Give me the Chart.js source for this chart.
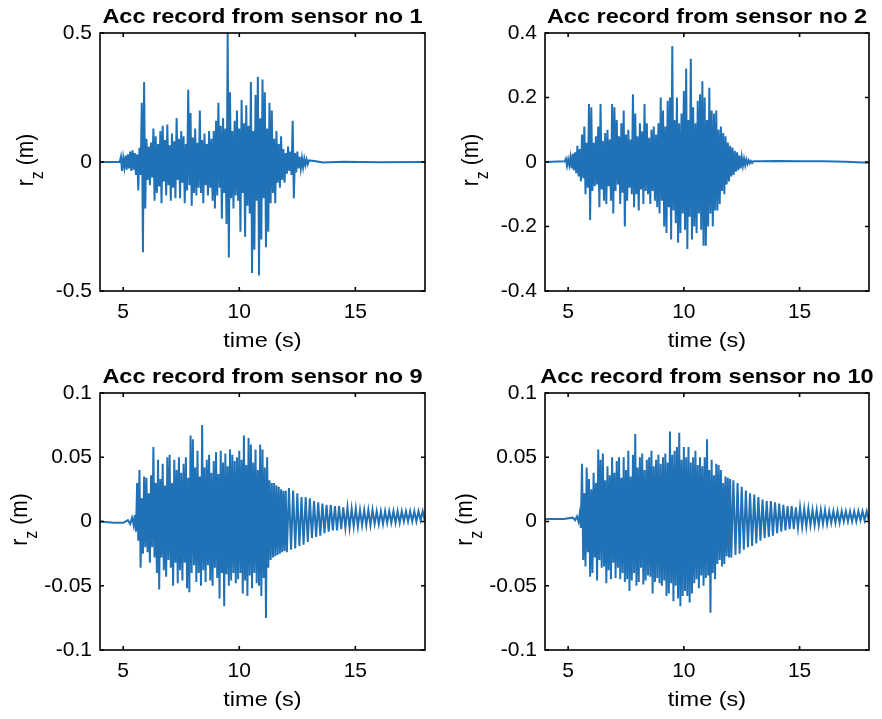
<!DOCTYPE html>
<html>
<head>
<meta charset="utf-8">
<title>Acc records</title>
<script src="https://cdn.jsdelivr.net/npm/chart.js@4.4.1/dist/chart.umd.min.js"></script>
<style>
  body { margin: 0; background: #fff; }
  #page { position: relative; width: 882px; height: 719px; }
  canvas { position: absolute; }
</style>
</head>
<body>
<div id="page">
  <canvas id="c1" width="441" height="360" style="left:0;top:0"></canvas>
  <canvas id="c2" width="441" height="360" style="left:441px;top:0"></canvas>
  <canvas id="c9" width="441" height="359" style="left:0;top:360px"></canvas>
  <canvas id="c10" width="441" height="359" style="left:441px;top:360px"></canvas>
</div>
<script>
// tick labels
const timeTicks = [5, 10, 15];
const ticks1 = [-0.5, 0, 0.5];
const ticks2 = [-0.4, -0.2, 0, 0.2, 0.4];
const ticks9 = [-0.1, -0.05, 0, 0.05, 0.1];
const ticks10 = [-0.1, -0.05, 0, 0.05, 0.1];

// sensor 1 : quiet start, burst sampled every 0.05 s from 4.9 s, quiet end
const s1Lead = [[4, 0], [4.85, 0.001]];
const s1Burst = [
  0.02, -0.035, 0.015, -0.02, 0.025, -0.03, 0.03, -0.025, 0.04, -0.035,
  0.045, -0.03, 0.035, -0.05, 0.03, -0.11, 0.055, -0.05, 0.23, -0.35,
  0.31, -0.18, 0.09, -0.07, 0.06, -0.09, 0.075, -0.06, 0.13, -0.15,
  0.1, -0.12, 0.07, -0.095, 0.12, -0.16, 0.14, -0.075, 0.085, -0.13,
  0.145, -0.09, 0.065, -0.15, 0.11, -0.1, 0.08, -0.14, 0.17, -0.07,
  0.09, -0.14, 0.12, -0.08, 0.1, -0.16, 0.07, -0.11, 0.28, -0.09,
  0.19, -0.17, 0.095, -0.12, 0.13, -0.13, 0.075, -0.1, 0.2, -0.12,
  0.085, -0.16, 0.11, -0.09, 0.07, -0.13, 0.12, -0.1, 0.09, -0.15,
  0.12, -0.18, 0.16, -0.13, 0.23, -0.1, 0.14, -0.22, 0.17, -0.12,
  0.13, -0.24, 0.5, -0.37, 0.27, -0.14, 0.12, -0.18, 0.16, -0.13,
  0.2, -0.15, 0.13, -0.27, 0.24, -0.12, 0.15, -0.29, 0.22, -0.17,
  0.14, -0.2, 0.31, -0.43, 0.12, -0.34, 0.26, -0.15, 0.33, -0.44,
  0.17, -0.3, 0.32, -0.14, 0.27, -0.33, 0.13, -0.27, 0.23, -0.16,
  0.2, -0.12, 0.09, -0.16, 0.12, -0.08, 0.07, -0.1, 0.1, -0.07,
  0.05, -0.08, 0.035, -0.045, 0.06, -0.035, 0.04, -0.05, 0.16, -0.14,
  0.035, -0.04, 0.04, -0.025, 0.02, -0.025, 0.015, -0.02, 0.012, -0.012,
  0.01, -0.008, 0.006
];
const s1End = [[13.3, 0.003], [13.6, -0.002], [14.5, 0.001], [16, -0.001], [18, 0]];

// sensor 2
const s2Lead = [[4, 0], [4.85, 0.002]];
const s2Burst = [
  0.01, -0.012, 0.008, -0.01, 0.015, -0.02, 0.025, -0.025, 0.03, -0.035,
  0.05, -0.045, 0.04, -0.06, 0.085, -0.05, 0.11, -0.1, 0.06, -0.08,
  0.18, -0.18, 0.17, -0.09, 0.06, -0.075, 0.08, -0.07, 0.11, -0.14,
  0.18, -0.085, 0.065, -0.12, 0.09, -0.13, 0.1, -0.075, 0.07, -0.12,
  0.18, -0.16, 0.17, -0.09, 0.13, -0.07, 0.08, -0.13, 0.12, -0.095,
  0.16, -0.2, 0.085, -0.12, 0.1, -0.08, 0.07, -0.1, 0.21, -0.14,
  0.15, -0.1, 0.08, -0.15, 0.12, -0.085, 0.095, -0.13, 0.18, -0.09,
  0.12, -0.1, 0.075, -0.13, 0.1, -0.09, 0.11, -0.12, 0.085, -0.14,
  0.12, -0.16, 0.2, -0.12, 0.16, -0.2, 0.11, -0.22, 0.19, -0.14,
  0.2, -0.24, 0.36, -0.15, 0.13, -0.19, 0.2, -0.25, 0.12, -0.22,
  0.15, -0.16, 0.22, -0.21, 0.29, -0.27, 0.13, -0.17, 0.32, -0.24,
  0.17, -0.2, 0.12, -0.22, 0.19, -0.16, 0.21, -0.21, 0.25, -0.26,
  0.2, -0.26, 0.13, -0.2, 0.23, -0.16, 0.16, -0.2, 0.15, -0.15,
  0.16, -0.15, 0.1, -0.13, 0.11, -0.09, 0.09, -0.1, 0.08, -0.07,
  0.06, -0.06, 0.05, -0.045, 0.045, -0.04, 0.035, -0.03, 0.03, -0.025,
  0.02, -0.02, 0.015, -0.012, 0.01, -0.01, 0.008, -0.006, 0.005, -0.004,
  0.003, -0.003, 0.002
];
const s2End = [[13.3, 0.002], [14, 0.003], [15, 0.002], [16, 0.002], [17, 0.001], [18, -0.002]];

// sensor 9 : burst every 0.05 s from 5.5 s, ringing every 0.09 s from 12.05 s
const s9Lead = [[4, 0], [4.6, -0.001], [5.0, -0.001], [5.2, 0.001], [5.3, -0.002], [5.38, 0.003], [5.45, -0.003]];
const s9Burst = [
  0.005, -0.008, 0.03, -0.015, 0.04, -0.036, 0.018, -0.025, 0.035, -0.02,
  0.034, -0.024, 0.022, -0.032, 0.036, -0.02, 0.058, -0.028, 0.03, -0.04,
  0.048, -0.053, 0.033, -0.028, 0.045, -0.038, 0.028, -0.043, 0.05, -0.03,
  0.052, -0.036, 0.03, -0.05, 0.048, -0.032, 0.04, -0.048, 0.05, -0.038,
  0.038, -0.046, 0.045, -0.032, 0.05, -0.052, 0.034, -0.055, 0.067, -0.04,
  0.064, -0.034, 0.042, -0.047, 0.055, -0.04, 0.035, -0.05, 0.075, -0.038,
  0.042, -0.047, 0.048, -0.034, 0.052, -0.046, 0.038, -0.05, 0.047, -0.036,
  0.054, -0.044, 0.037, -0.06, 0.055, -0.04, 0.046, -0.066, 0.053, -0.041,
  0.043, -0.05, 0.056, -0.046, 0.052, -0.04, 0.047, -0.048, 0.05, -0.045,
  0.055, -0.04, 0.048, -0.056, 0.067, -0.046, 0.044, -0.058, 0.065, -0.042,
  0.06, -0.052, 0.046, -0.04, 0.056, -0.048, 0.04, -0.05, 0.06, -0.058,
  0.056, -0.044, 0.042, -0.075, 0.05, -0.036, 0.032, -0.03, 0.03, -0.028,
  0.03, -0.027, 0.028, -0.026, 0.027, -0.025, 0.025, -0.024, 0.024, -0.023,
  0.024
];
const s9Tail = [
  -0.024, 0.026, -0.022, 0.024, -0.021, 0.022, -0.019, 0.019, -0.018, 0.019,
  -0.016, 0.018, -0.013, 0.016, -0.012, 0.015, -0.011, 0.014, -0.009, 0.013,
  -0.008, 0.013, -0.007, 0.012, -0.007, 0.012, -0.006, 0.011, -0.005, 0.011,
  -0.005, 0.01, -0.004, 0.01, -0.004, 0.009, -0.003, 0.009, -0.003, 0.009,
  -0.003, 0.009, -0.002, 0.008, -0.002, 0.008, -0.002, 0.008, -0.001, 0.008,
  -0.001, 0.008, -0.001, 0.008, -0.001, 0.008, 0, 0.008, 0, 0.008,
  0, 0.008, 0, 0.008, 0.001, 0.008, 0.001
];

// sensor 10
const s10Lead = [[4, 0.002], [4.8, 0.002], [5.2, 0.003], [5.3, 0.001], [5.38, 0.004], [5.45, 0]];
const s10Burst = [
  0.006, -0.005, 0.045, -0.03, 0.022, -0.035, 0.042, -0.024, 0.033, -0.043,
  0.025, -0.04, 0.038, -0.028, 0.03, -0.046, 0.056, -0.03, 0.048, -0.036,
  0.053, -0.035, 0.032, -0.048, 0.043, -0.038, 0.036, -0.045, 0.05, -0.032,
  0.038, -0.044, 0.047, -0.036, 0.05, -0.045, 0.034, -0.04, 0.05, -0.047,
  0.04, -0.045, 0.055, -0.054, 0.035, -0.046, 0.052, -0.04, 0.068, -0.05,
  0.042, -0.047, 0.05, -0.036, 0.053, -0.049, 0.04, -0.046, 0.048, -0.042,
  0.05, -0.043, 0.055, -0.056, 0.043, -0.047, 0.048, -0.044, 0.052, -0.048,
  0.045, -0.05, 0.05, -0.046, 0.053, -0.058, 0.046, -0.056, 0.07, -0.048,
  0.052, -0.062, 0.055, -0.05, 0.058, -0.06, 0.069, -0.066, 0.048, -0.058,
  0.058, -0.054, 0.05, -0.058, 0.058, -0.063, 0.046, -0.056, 0.05, -0.048,
  0.055, -0.045, 0.044, -0.052, 0.05, -0.042, 0.043, -0.05, 0.05, -0.044,
  0.064, -0.042, 0.04, -0.071, 0.048, -0.04, 0.036, -0.045, 0.045, -0.033,
  0.044, -0.03, 0.04, -0.035, 0.03, -0.033, 0.035, -0.027, 0.034, -0.028,
  0.033
];
const s10Tail = [
  -0.028, 0.032, -0.026, 0.03, -0.025, 0.027, -0.022, 0.024, -0.02, 0.022,
  -0.019, 0.021, -0.017, 0.019, -0.015, 0.017, -0.013, 0.016, -0.012, 0.016,
  -0.011, 0.015, -0.009, 0.014, -0.008, 0.013, -0.007, 0.012, -0.006, 0.012,
  -0.006, 0.011, -0.005, 0.011, -0.004, 0.01, -0.004, 0.01, -0.003, 0.009,
  -0.003, 0.009, -0.003, 0.009, -0.002, 0.009, -0.002, 0.008, -0.001, 0.008,
  -0.001, 0.008, -0.001, 0.008, 0, 0.008, 0, 0.008, 0, 0.008,
  0, 0.008, 0.001, 0.008, 0.001, 0.008, 0.001
];

const LINE = '#2071b5';
const FONT = '"Liberation Sans", Arial, Helvetica, sans-serif';
const STRETCH = 1.12;

function pairs(list) {
  return list.map(p => ({ x: p[0], y: p[1] }));
}

function run(t0, dt, vals) {
  return vals.map((v, i) => ({ x: t0 + i * dt, y: v }));
}

const framePlugin = {
  id: 'frame',
  afterDraw(chart, args, opts) {
    const { ctx, chartArea: a, scales } = chart;
    const cx = (a.left + a.right) / 2;
    const cy = (a.top + a.bottom) / 2;
    ctx.save();

    // box and inward ticks
    ctx.strokeStyle = '#000';
    ctx.lineWidth = 1.6;
    ctx.strokeRect(a.left, a.top, a.right - a.left, a.bottom - a.top);
    ctx.beginPath();
    scales.x.ticks.forEach(t => {
      const px = scales.x.getPixelForValue(t.value);
      ctx.moveTo(px, a.bottom); ctx.lineTo(px, a.bottom - 4);
      ctx.moveTo(px, a.top); ctx.lineTo(px, a.top + 4);
    });
    scales.y.ticks.forEach(t => {
      const py = scales.y.getPixelForValue(t.value);
      ctx.moveTo(a.left, py); ctx.lineTo(a.left + 4, py);
      ctx.moveTo(a.right, py); ctx.lineTo(a.right - 4, py);
    });
    ctx.stroke();

    ctx.fillStyle = '#000';
    ctx.textBaseline = 'alphabetic';

    // title
    ctx.save();
    ctx.translate(cx, a.top - 10);
    ctx.scale(STRETCH, 1);
    ctx.font = 'bold 21px ' + FONT;
    ctx.textAlign = 'center';
    ctx.fillText(opts.title, 0, 0);
    ctx.restore();

    // x label
    ctx.save();
    ctx.translate(cx, a.bottom + 56);
    ctx.scale(STRETCH, 1);
    ctx.font = '21px ' + FONT;
    ctx.textAlign = 'center';
    ctx.fillText('time (s)', 0, 0);
    ctx.restore();

    // y label r_z (m)
    ctx.save();
    ctx.translate(a.left - opts.ylabelGap, cy - 2);
    ctx.scale(STRETCH, 1);
    ctx.rotate(-Math.PI / 2);
    ctx.textAlign = 'left';
    ctx.font = '21px ' + FONT;
    const wr = ctx.measureText('r').width;
    const wm = ctx.measureText(' (m)').width;
    ctx.font = '16px ' + FONT;
    const wz = ctx.measureText('z').width;
    let x0 = -(wr + wz + wm) / 2;
    ctx.font = '21px ' + FONT;
    ctx.fillText('r', x0, 0);
    ctx.font = '16px ' + FONT;
    ctx.fillText('z', x0 + wr, 9);
    ctx.font = '21px ' + FONT;
    ctx.fillText(' (m)', x0 + wr + wz, 0);
    ctx.restore();

    ctx.restore();
  }
};

function makeChart(id, points, yTicks, title, box) {
  const canvas = document.getElementById(id);
  const W = canvas.width, H = canvas.height;
  return new Chart(canvas, {
    type: 'line',
    data: {
      datasets: [{
        data: points,
        borderColor: LINE,
        borderWidth: 2,
        pointRadius: 0,
        fill: false,
        tension: 0
      }]
    },
    options: {
      responsive: false,
      animation: false,
      parsing: false,
      normalized: true,
      events: [],
      layout: { padding: { top: 33, right: W - box.right, left: 0, bottom: 0 } },
      plugins: {
        legend: { display: false },
        tooltip: { enabled: false },
        frame: { title: title, ylabelGap: box.ylabelGap }
      },
      scales: {
        x: {
          type: 'linear',
          min: 4,
          max: 18,
          grid: { display: false, drawTicks: false },
          border: { display: false },
          ticks: {
            padding: 9,
            color: '#000',
            maxRotation: 0,
            font: { family: FONT, size: 21 },
            callback: v => String(v)
          },
          afterBuildTicks: s => { s.ticks = timeTicks.map(v => ({ value: v })); },
          afterFit: s => { s.height = H - box.bottom; }
        },
        y: {
          type: 'linear',
          min: yTicks[0],
          max: yTicks[yTicks.length - 1],
          grid: { display: false, drawTicks: false },
          border: { display: false },
          ticks: {
            padding: 8,
            color: '#000',
            font: { family: FONT, size: 21 },
            callback: v => String(v)
          },
          afterBuildTicks: s => { s.ticks = yTicks.map(v => ({ value: v })); },
          afterFit: s => { s.width = box.left; }
        }
      }
    },
    plugins: [framePlugin]
  });
}

makeChart('c1',
  pairs(s1Lead).concat(run(4.9, 0.05, s1Burst), pairs(s1End)),
  ticks1, 'Acc record from sensor no 1',
  { left: 100, right: 425, bottom: 291, ylabelGap: 67.5 });

makeChart('c2',
  pairs(s2Lead).concat(run(4.9, 0.05, s2Burst), pairs(s2End)),
  ticks2, 'Acc record from sensor no 2',
  { left: 104, right: 428, bottom: 291, ylabelGap: 67.5 });

makeChart('c9',
  pairs(s9Lead).concat(run(5.5, 0.05, s9Burst), run(12.05, 0.09, s9Tail)),
  ticks9, 'Acc record from sensor no 9',
  { left: 100, right: 425, bottom: 290, ylabelGap: 73.5 });

makeChart('c10',
  pairs(s10Lead).concat(run(5.5, 0.05, s10Burst), run(12.05, 0.09, s10Tail)),
  ticks10, 'Acc record from sensor no 10',
  { left: 104, right: 428, bottom: 290, ylabelGap: 73.5 });
</script>
</body>
</html>
